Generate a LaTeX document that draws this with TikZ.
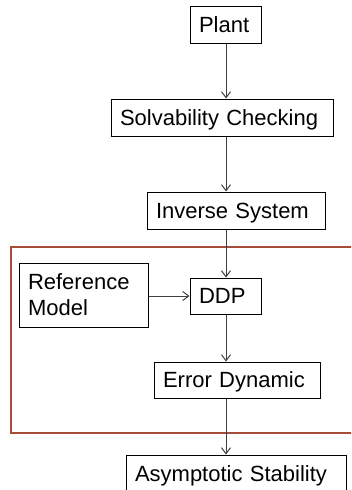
\documentclass[tikz,border=0pt]{standalone}
\usepackage{fontspec}
\setmainfont{Liberation Sans}
\usetikzlibrary{arrows.meta}

\definecolor{framered}{RGB}{168,75,58}
\definecolor{wire}{RGB}{64,64,64}
\tikzset{
  blk/.style={draw, line width=1pt, inner xsep=9pt, inner ysep=0pt, align=left,
    font=\fontsize{22}{26}\selectfont},
  line1/.style={blk, text height=20pt, text depth=4.25pt},
  link/.style={->, draw=wire, line width=1pt}
}

\begin{document}
\begin{tikzpicture}[x=1pt, y=-1pt, >={Straight Barb[length=6pt,width=9pt]}]
        % Ausschnitt
        \useasboundingbox (0,0) rectangle (351,490);
        \clip (0,0) rectangle (351,490);
        \coordinate (axis) at (226,0);
        % Rahmen
        \draw[framered, line width=2pt] (11,247) rectangle (362,433);
        % Bloecke
        \node[line1, text width=53pt, minimum height=37pt] (plant) at (225.5,24.5) {Plant};
        \node[line1, text width=204pt, minimum height=37pt] (solv) at (222,117.5) {Solvability Checking};
        \node[line1, text width=160pt, minimum height=37pt] (inv) at (236,210.5) {Inverse System};
        \node[blk, text width=111pt, minimum height=64pt] (ref) at (83.5,295) {Reference\\Model};
        \node[line1, text width=53pt, minimum height=36pt] (ddp) at (225.5,296) {DDP};
        \node[line1, text width=148pt, minimum height=36pt] (err) at (237,380) {Error Dynamic};
        \node[line1, text width=202pt, minimum height=37pt] (asym) at (236,473.5) {Asymptotic Stability};
        % Pfeile
        \draw[link] (axis |- plant.south) -- (axis |- solv.north);
        \draw[link] (axis |- solv.south) -- (axis |- inv.north);
        \draw[link] (axis |- inv.south) -- (axis |- ddp.north);
        \draw[link] (ref.east |- ddp.west) -- (ddp.west);
        \draw[link] (axis |- ddp.south) -- (axis |- err.north);
        \draw[link] (axis |- err.south) -- (axis |- asym.north);
\end{tikzpicture}
\end{document}
